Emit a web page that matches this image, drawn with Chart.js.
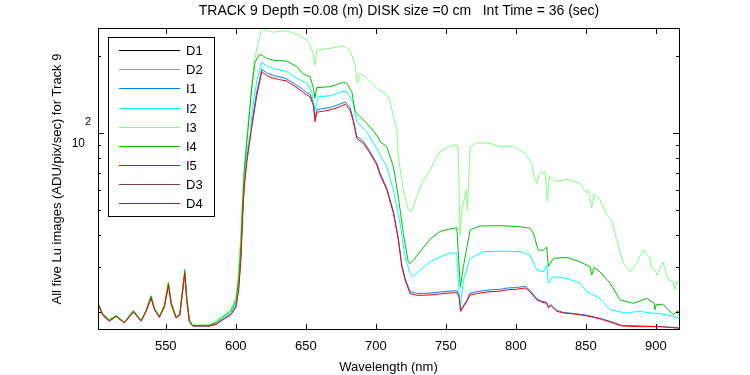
<!DOCTYPE html>
<html>
<head>
<meta charset="utf-8">
<script src="https://cdn.jsdelivr.net/npm/chart.js@4.4.1/dist/chart.umd.min.js"></script>
<style>
  html, body { margin: 0; padding: 0; background: #fff; }
  #wrap { width: 750px; height: 375px; }
</style>
</head>
<body>
<div id="wrap"><canvas id="c" width="750" height="375"></canvas></div>
<script>
// titles
const chartTitle = 'TRACK 9 Depth =0.08 (m) DISK size =0 cm   Int Time = 36 (sec)';
const xTitle = 'Wavelength (nm)';
const yTitle = 'All five Lu images (ADU/pix/sec) for Track 9';
const seriesNames = ['D1', 'D2', 'I1', 'I2', 'I3', 'I4', 'I5', 'D3', 'D4'];
const xTicks = [550, 600, 650, 700, 750, 800, 850, 900];
const yMajor = [100];
const yMinor = [20, 30, 40, 50, 60, 70, 80, 90, 200];

// dark frames sit at the floor of the log axis
const wlD = [501.6, 916.6];
const valD1 = [17.15, 17.15];
const valD2 = [17.15, 17.15];
const valD3 = [17.15, 17.15];
const valD4 = [17.15, 17.15];

// I5 (red)
const wlI5 = [502, 505, 509.7, 514.5, 520.4, 526.9, 532.4, 536, 539.5, 542, 545.4, 549, 551.9, 554, 557.4, 560, 563.6, 565, 566.9, 569.3, 581.1, 586, 590.7, 596.6, 600.2, 602.1, 603.8, 605, 606.1, 607.9, 609, 611.4, 615, 618.6, 622, 626.9, 631, 636.4, 641, 645.9, 650.7, 653.1, 655.5, 656.6, 657.9, 662.6, 667.4, 674.5, 678.1, 681.6, 684, 686.4, 691.1, 695.9, 700.7, 703.1, 707.9, 712.6, 716.1, 718.6, 720.9, 724.5, 730, 738.8, 745, 752, 757.9, 759.5, 760.7, 762, 765, 767.4, 772.1, 781.6, 788.8, 793.6, 800, 806.6, 810.2, 815, 818, 822.1, 823.3, 825, 829.3, 834, 842, 850.7, 861.4, 868, 875.7, 890, 903.1, 910, 915, 916.6];
const valI5 = [21.4, 19.5, 18.5, 19.3, 18.2, 20.1, 18.5, 20.2, 22.8, 20.5, 19.1, 21.0, 25.6, 21.4, 19.0, 19.5, 28.5, 22.4, 18.4, 17.7, 17.7, 18.0, 18.7, 19.6, 21.0, 24.5, 33, 48, 62, 77, 85, 105, 140, 174, 168, 164, 162, 160, 154, 147.6, 141, 139, 128, 111, 120.8, 122, 123.3, 127, 129.8, 123.3, 111, 95.6, 91.4, 83.6, 75.2, 68.8, 60.1, 48.8, 38.4, 30.2, 26.8, 23.7, 23.3, 23.4, 23.6, 23.8, 23.9, 23.0, 20.2, 20.8, 22.0, 23.4, 23.7, 24.1, 24.2, 24.5, 24.6, 24.9, 24.1, 22.4, 22.0, 21.7, 20.8, 21.3, 20.2, 19.9, 19.7, 19.4, 18.8, 18.3, 17.7, 17.6, 17.6, 17.5, 17.4, 17.4];

// I1 (blue) - sits just above I5
const wlI1 = [502, 505, 509.7, 514.5, 520.4, 526.9, 532.4, 536, 539.5, 542, 545.4, 549, 551.9, 554, 557.4, 560, 563.6, 565, 566.9, 569.3, 581.1, 586, 590.7, 596.6, 600.2, 602.1, 603.8, 605, 606.1, 607.9, 609, 611.4, 615, 618.6, 622, 626.9, 631, 636.4, 641, 645.9, 650.7, 653.1, 655.5, 656.6, 657.9, 662.6, 667.4, 674.5, 678.1, 681.6, 684, 686.4, 691.1, 695.9, 700.7, 703.1, 707.9, 712.6, 716.1, 718.6, 720.9, 724.5, 730, 738.8, 745, 752, 757.9, 759.5, 760.7, 762, 765, 767.4, 772.1, 781.6, 788.8, 793.6, 800, 806.6, 810.2, 815, 818, 822.1, 823.3, 825, 829.3, 834, 842, 850.7, 861.4, 868, 875.7, 890, 903.1, 910, 915, 916.6];
const valI1 = [21.4, 19.5, 18.5, 19.3, 18.2, 20.1, 18.5, 20.2, 22.7, 20.5, 19.2, 21.0, 25.5, 21.4, 19.1, 19.5, 28.2, 22.4, 18.4, 17.7, 17.7, 18.0, 18.8, 19.7, 21.2, 25.0, 34, 50, 64, 80, 88, 109, 145, 178, 172, 168, 166, 163, 157, 151, 144, 142, 131, 114, 123.5, 125, 126, 130, 132.5, 126, 113, 97.5, 93, 85, 76.5, 70, 61, 49.6, 39, 30.7, 27.2, 24.1, 23.7, 23.8, 24.0, 24.2, 24.3, 23.3, 20.4, 21.0, 22.3, 23.8, 24.1, 24.5, 24.6, 24.9, 25.0, 25.3, 24.4, 22.6, 22.2, 21.9, 21.0, 21.5, 20.4, 20.0, 19.8, 19.5, 18.9, 18.4, 17.8, 17.7, 17.6, 17.5, 17.4, 17.4];

// I2 (cyan)
const wlI2 = [502, 505, 509.7, 514.5, 520.4, 526.9, 532.4, 536, 539.5, 542, 545.4, 549, 551.9, 554, 557.4, 560, 563.6, 565, 566.9, 569.3, 581.1, 586, 590.7, 596.6, 600.2, 602.1, 603.8, 605, 606.1, 607.9, 610.2, 612, 615, 618.6, 622, 626.9, 631, 636.4, 643.6, 650.7, 654.3, 656.6, 659, 667.4, 676.9, 679.3, 684, 686.4, 693.6, 700.7, 703.1, 707.9, 712.6, 717.4, 720.9, 724.5, 726.9, 731.6, 738.8, 745.9, 753.1, 757.9, 760.2, 762.6, 767.4, 776.9, 788.8, 803.1, 810.2, 815, 819.7, 822.1, 823.3, 826.9, 836.4, 845.9, 850.7, 860.2, 867.4, 878.1, 888.8, 895.9, 903.1, 912.6, 916.6];
const valI2 = [21.5, 19.6, 18.6, 19.4, 18.3, 20.2, 18.6, 20.3, 23.0, 20.6, 19.2, 21.1, 25.8, 21.5, 19.1, 19.6, 28.8, 22.6, 18.5, 17.8, 17.8, 18.2, 19.0, 20.0, 21.8, 26, 36, 52, 68, 85, 98.5, 125, 160, 189, 183, 179, 177, 174, 164, 157, 145, 123, 139, 140, 146, 145, 131, 111, 101, 87.4, 82.3, 74.1, 60, 44.5, 33, 28.4, 27.6, 29.2, 31.5, 33, 34.1, 34.1, 20.5, 26.8, 32.5, 34.5, 34.7, 34.5, 33.5, 29.3, 28.8, 30.6, 26, 27.6, 27.2, 26, 24.1, 22.7, 20.5, 19.9, 20.2, 19.9, 19.8, 19.3, 19.0];

// I3 (light green)
const wlI3 = [502, 505, 509.7, 514.5, 520.4, 526.9, 532.4, 536, 539.5, 542, 545.4, 549, 551.9, 554, 557.4, 560, 563.6, 565, 566.9, 569.3, 581.1, 586, 590.7, 596.6, 600.2, 601.5, 603, 604.5, 606, 607.9, 609.5, 611.4, 613, 615, 617.9, 619, 622, 626, 632, 636.4, 641, 644.7, 650.7, 653, 655.4, 656.6, 657.9, 667.4, 676.9, 681.6, 685.2, 686.9, 688.8, 693.6, 700.7, 707.9, 710, 712.6, 715, 716.1, 719.7, 723.2, 725.6, 729.2, 732.9, 738.8, 745.9, 751.9, 757.9, 759, 760.2, 761.5, 762.6, 764.5, 765.5, 767.4, 772.1, 781.6, 788.8, 798.3, 806.6, 811.4, 813, 815, 817, 820.9, 822.6, 824, 828.1, 836.4, 845.9, 850.7, 852, 854.3, 856, 860.2, 865, 868.6, 872.1, 876.9, 881.6, 886.4, 891.1, 895.9, 897, 899.5, 901, 905, 909, 912.6, 913.8, 915, 916.6];
const valI3 = [21.6, 19.8, 18.8, 19.5, 18.4, 20.4, 18.7, 20.5, 23.3, 20.8, 19.4, 21.4, 26.3, 21.8, 19.3, 19.8, 29.6, 23, 18.7, 17.8, 17.9, 18.6, 19.5, 20.8, 23, 27, 36, 52, 72, 95.6, 120, 154.5, 185, 214.6, 250, 256, 252, 248, 250, 251, 246, 242, 231, 222, 202, 184.6, 211, 214.6, 219.6, 211, 184.6, 156.6, 171, 164, 149.8, 141, 135, 116, 105, 81, 60.1, 50.2, 49.4, 56.6, 63.7, 71.9, 84.8, 88.6, 90.6, 85, 40, 50, 53.3, 60, 50, 88.6, 91.9, 91.4, 88.6, 89.2, 83.6, 76.4, 68, 63.8, 70, 70.8, 54.1, 68, 64.7, 66.1, 63.8, 58.3, 60, 51, 58, 55, 47.9, 45.9, 38.4, 31.1, 28.8, 31.1, 35.2, 32.5, 30, 29.2, 28, 31.5, 26.8, 26.4, 24.5, 26.5, 25.6];

// I4 (green)
const wlI4 = [502, 505, 509.7, 514.5, 520.4, 526.9, 532.4, 536, 539.5, 542, 545.4, 549, 551.9, 554, 557.4, 560, 563.6, 565, 566.9, 569.3, 581.1, 586, 590.7, 596.6, 600.2, 602.1, 603.8, 605, 606.1, 607.9, 609.5, 611.4, 613.8, 617, 619.7, 622, 626.9, 631, 636.4, 643.6, 648.3, 653.1, 655.5, 656.6, 657.9, 667.4, 676.9, 679.3, 682.9, 685.2, 693.6, 700.7, 703.1, 707.9, 712.6, 716.1, 719.7, 723.2, 724.5, 726.9, 731.6, 738.8, 745.9, 752, 757.9, 760.4, 762.6, 767.4, 774.5, 788.8, 803.1, 810.2, 812.6, 816.1, 819.7, 822.1, 823.3, 826.9, 836.4, 845.9, 853, 854.3, 856, 860.2, 867.4, 874.5, 884, 893.6, 899, 899.5, 900.5, 905, 907.4, 912.6, 915, 916.6];
const valI4 = [21.5, 19.7, 18.7, 19.4, 18.3, 20.3, 18.6, 20.4, 23.2, 20.7, 19.3, 21.3, 26.1, 21.7, 19.2, 19.7, 29.3, 22.8, 18.6, 17.8, 17.8, 18.3, 19.2, 20.3, 22.3, 27, 38, 55, 72, 92, 115, 150, 190, 203, 200, 196, 193, 192, 191.4, 182, 170, 166.3, 150, 137, 150.7, 152, 158, 156.6, 145.3, 121.4, 109.4, 98.5, 92.7, 88.6, 74.1, 56.6, 40.7, 31.5, 31.1, 32.0, 34.5, 38.6, 41.4, 42.2, 42.8, 25.2, 30.2, 42, 43.5, 43.6, 43.2, 42.6, 40.7, 35, 35, 36, 30.2, 32.5, 32.8, 31.5, 30.2, 28.0, 30, 28.8, 26, 22.4, 21.7, 22.7, 21.7, 20.5, 21.5, 21.5, 20.9, 19.6, 20.2, 20.2];

const seriesColors = ['#000000', '#999999', '#0080ff', '#00ffff', '#80ff80', '#00bf00', '#ff0000', '#804040', '#6b3838'];
const seriesWl = [wlD, wlD, wlI1, wlI2, wlI3, wlI4, wlI5, wlD, wlD];
const seriesVal = [valD1, valD2, valI1, valI2, valI3, valI4, valI5, valD3, valD4];

const FAMILY = "'Liberation Sans', Arial, sans-serif";
const FONT = '13px ' + FAMILY;

// axes box, inward ticks, texts and legend in the old plotting style
const matlabFrame = {
  id: 'matlabFrame',
  afterDatasetsDraw(chart) {
    const { ctx, chartArea: a, scales: { x, y } } = chart;
    ctx.save();
    ctx.strokeStyle = '#000';
    ctx.lineWidth = 1;
    ctx.strokeRect(a.left + 0.5, a.top + 0.5, a.right - a.left, a.bottom - a.top - 1);

    ctx.beginPath();
    xTicks.forEach(v => {
      const px = Math.round(x.getPixelForValue(v)) + 0.5;
      ctx.moveTo(px, a.bottom); ctx.lineTo(px, a.bottom - 6);
      ctx.moveTo(px, a.top); ctx.lineTo(px, a.top + 6);
    });
    const yTick = (v, len) => {
      const py = Math.round(y.getPixelForValue(v)) + 0.5;
      ctx.moveTo(a.left, py); ctx.lineTo(a.left + len, py);
      ctx.moveTo(a.right, py); ctx.lineTo(a.right - len, py);
    };
    yMajor.forEach(v => yTick(v, 6));
    yMinor.forEach(v => yTick(v, 3));
    ctx.stroke();

    ctx.fillStyle = '#000';
    ctx.font = FONT;
    ctx.textAlign = 'center';
    ctx.textBaseline = 'alphabetic';
    xTicks.forEach(v => ctx.fillText(String(v), x.getPixelForValue(v), 350));
    ctx.fillText(xTitle, (a.left + a.right) / 2, 371);
    ctx.font = '14px ' + FAMILY;
    ctx.fillText(chartTitle, 399, 15);

    // 10^2 label
    const p100 = y.getPixelForValue(100);
    ctx.textAlign = 'right';
    ctx.font = '12px ' + FAMILY;
    ctx.fillText('10', 85, p100 + 14);
    ctx.textAlign = 'left';
    ctx.font = '11px ' + FAMILY;
    ctx.fillText('2', 85, p100 - 8);

    ctx.font = FONT;
    ctx.save();
    ctx.translate(61, (a.top + a.bottom) / 2);
    ctx.rotate(-Math.PI / 2);
    ctx.textAlign = 'center';
    ctx.fillText(yTitle, 0, 0);
    ctx.restore();

    // legend box
    ctx.fillStyle = '#fff';
    ctx.fillRect(108.5, 37.5, 106, 179);
    ctx.strokeStyle = '#000';
    ctx.strokeRect(108.5, 37.5, 106, 179);
    ctx.textAlign = 'left';
    ctx.textBaseline = 'middle';
    chart.data.datasets.forEach((ds, i) => {
      const ly = Math.round(50 + i * 19.17) + 0.5;
      ctx.strokeStyle = ds.borderColor;
      ctx.beginPath();
      ctx.moveTo(119, ly); ctx.lineTo(180, ly);
      ctx.stroke();
      ctx.fillStyle = '#000';
      ctx.fillText(ds.label, 186, ly + 1);
    });
    ctx.restore();
  }
};

const datasets = seriesNames.map((name, i) => ({
  label: name,
  data: seriesWl[i].map((w, k) => ({ x: w, y: seriesVal[i][k] })),
  borderColor: seriesColors[i],
  backgroundColor: seriesColors[i],
  borderWidth: 1,
  pointRadius: 0,
  tension: 0,
  fill: false,
  order: seriesNames.length - i
}));

new Chart(document.getElementById('c').getContext('2d'), {
  type: 'line',
  data: { datasets },
  options: {
    responsive: false,
    animation: false,
    devicePixelRatio: 1,
    layout: { padding: { top: 28, right: 71, left: 0, bottom: 0 } },
    plugins: {
      legend: { display: false },
      tooltip: { enabled: false },
      title: { display: false }
    },
    scales: {
      x: {
        type: 'linear',
        min: 501.6,
        max: 916.6,
        grid: { display: false, drawTicks: false },
        border: { display: false },
        ticks: { display: false },
        afterFit(s) { s.height = 45; }
      },
      y: {
        type: 'logarithmic',
        min: 17.08,
        max: 257.5,
        grid: { display: false, drawTicks: false },
        border: { display: false },
        ticks: { display: false },
        afterFit(s) { s.width = 98; }
      }
    }
  },
  plugins: [matlabFrame]
});
</script>
</body>
</html>
